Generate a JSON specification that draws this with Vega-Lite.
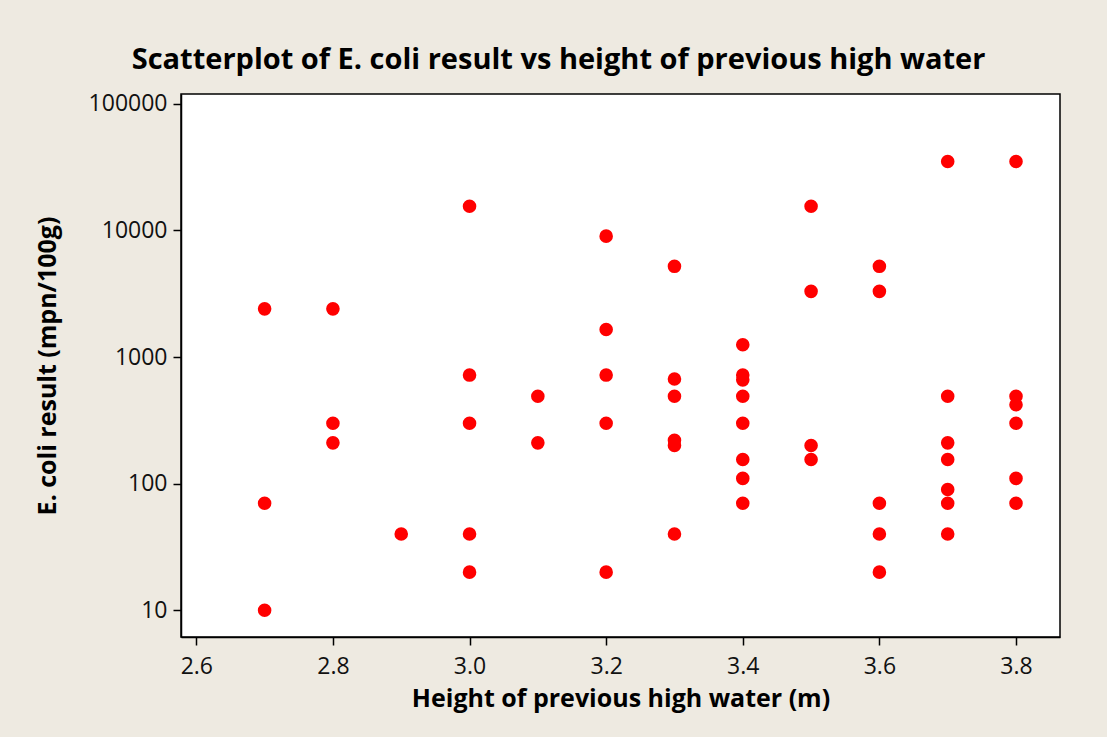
{
  "$schema": "https://vega.github.io/schema/vega-lite/v6.json",
  "width": 879,
  "height": 543,
  "autosize": {"type": "none"},
  "padding": {"left": 181, "top": 94, "right": 47, "bottom": 100},
  "background": "#EEEAE1",
  "title": {
    "text": "Scatterplot of E. coli result vs height of previous high water",
    "anchor": "middle",
    "frame": "group",
    "dx": -62,
    "offset": -5,
    "baseline": "alphabetic",
    "font": "Open Sans",
    "fontSize": 29,
    "fontWeight": "bold",
    "color": "#000000"
  },
  "data": {
    "values": [
      {"height": 2.7, "ecoli": 2400}, {"height": 2.7, "ecoli": 70}, {"height": 2.7, "ecoli": 10},
      {"height": 2.8, "ecoli": 2400}, {"height": 2.8, "ecoli": 300}, {"height": 2.8, "ecoli": 210},
      {"height": 2.9, "ecoli": 40},
      {"height": 3.0, "ecoli": 15500}, {"height": 3.0, "ecoli": 720}, {"height": 3.0, "ecoli": 300}, {"height": 3.0, "ecoli": 40}, {"height": 3.0, "ecoli": 20},
      {"height": 3.1, "ecoli": 490}, {"height": 3.1, "ecoli": 210},
      {"height": 3.2, "ecoli": 9000}, {"height": 3.2, "ecoli": 1650}, {"height": 3.2, "ecoli": 720}, {"height": 3.2, "ecoli": 300}, {"height": 3.2, "ecoli": 20},
      {"height": 3.3, "ecoli": 5200}, {"height": 3.3, "ecoli": 670}, {"height": 3.3, "ecoli": 490}, {"height": 3.3, "ecoli": 220}, {"height": 3.3, "ecoli": 200}, {"height": 3.3, "ecoli": 40},
      {"height": 3.4, "ecoli": 1250}, {"height": 3.4, "ecoli": 720}, {"height": 3.4, "ecoli": 660}, {"height": 3.4, "ecoli": 490}, {"height": 3.4, "ecoli": 300}, {"height": 3.4, "ecoli": 155}, {"height": 3.4, "ecoli": 110}, {"height": 3.4, "ecoli": 70},
      {"height": 3.5, "ecoli": 15500}, {"height": 3.5, "ecoli": 3300}, {"height": 3.5, "ecoli": 200}, {"height": 3.5, "ecoli": 155},
      {"height": 3.6, "ecoli": 5200}, {"height": 3.6, "ecoli": 3300}, {"height": 3.6, "ecoli": 70}, {"height": 3.6, "ecoli": 40}, {"height": 3.6, "ecoli": 20},
      {"height": 3.7, "ecoli": 35000}, {"height": 3.7, "ecoli": 490}, {"height": 3.7, "ecoli": 210}, {"height": 3.7, "ecoli": 155}, {"height": 3.7, "ecoli": 90}, {"height": 3.7, "ecoli": 70}, {"height": 3.7, "ecoli": 40},
      {"height": 3.8, "ecoli": 35000}, {"height": 3.8, "ecoli": 490}, {"height": 3.8, "ecoli": 420}, {"height": 3.8, "ecoli": 300}, {"height": 3.8, "ecoli": 110}, {"height": 3.8, "ecoli": 70}
    ]
  },
  "mark": {"type": "circle", "size": 185, "color": "#FF0000", "opacity": 1},
  "encoding": {
    "x": {
      "field": "height",
      "type": "quantitative",
      "title": "Height of previous high water (m)",
      "scale": {"domain": [2.5776, 3.8644], "nice": false, "zero": false},
      "axis": {
        "values": [2.6, 2.8, 3.0, 3.2, 3.4, 3.6, 3.8],
        "format": ".1f",
        "grid": false,
        "labelPadding": 10,
        "titlePadding": 8
      }
    },
    "y": {
      "field": "ecoli",
      "type": "quantitative",
      "title": "E. coli result (mpn/100g)",
      "scale": {"type": "log", "domain": [6.154, 119300], "nice": false},
      "axis": {
        "values": [10, 100, 1000, 10000, 100000],
        "format": "d",
        "grid": false,
        "labelPadding": 6,
        "titlePadding": 28
      }
    }
  },
  "config": {
    "view": {"fill": "#FFFFFF", "stroke": "#000000", "strokeWidth": 1.5},
    "axis": {
      "domainColor": "#000000",
      "domainWidth": 1.5,
      "tickColor": "#000000",
      "tickWidth": 1.5,
      "tickSize": 8,
      "labelFont": "Open Sans",
      "labelFontSize": 23,
      "labelColor": "#111111",
      "titleFont": "Open Sans",
      "titleFontSize": 25,
      "titleFontWeight": "bold",
      "titleColor": "#000000"
    }
  }
}
